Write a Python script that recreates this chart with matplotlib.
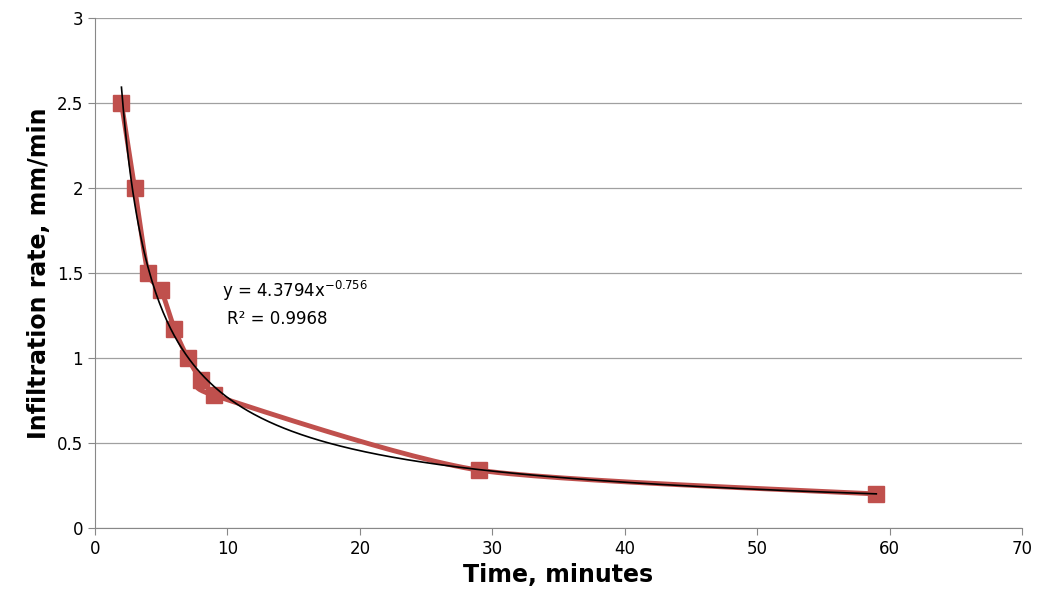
import numpy as np
import matplotlib
matplotlib.use("Agg")
import matplotlib.pyplot as plt

time_min = [2, 3, 4, 5, 6, 7, 8, 9, 29, 59]
rate = [2.5, 2.0, 1.5, 1.4, 1.17, 1.0, 0.87, 0.78, 0.34, 0.2]
coef_a, coef_b = 4.3794, -0.756

def catmull(xs, ys, n=30):
    xs = np.asarray(xs, float); ys = np.asarray(ys, float)
    px = np.concatenate([[xs[0]], xs, [xs[-1]]]); py = np.concatenate([[ys[0]], ys, [ys[-1]]])
    ox, oy = [], []
    t = np.linspace(0, 1, n)
    for i in range(1, len(px) - 2):
        p0, p1, p2, p3 = [np.array([px[j], py[j]]) for j in (i - 1, i, i + 1, i + 2)]
        m1 = (p2 - p0) / 2 * 0.5 * 2 / 2 * 2 * 0.5 * 2 / 2 * 2 * 0.5
        m2 = (p3 - p1) / 2
        m1 = (p2 - p0) / 2
        for tt in t:
            h00 = 2*tt**3 - 3*tt**2 + 1; h10 = tt**3 - 2*tt**2 + tt
            h01 = -2*tt**3 + 3*tt**2; h11 = tt**3 - tt**2
            p = h00*p1 + h10*m1*0.67 + h01*p2 + h11*m2*0.67
            ox.append(p[0]); oy.append(p[1])
    return ox, oy

fig = plt.figure(figsize=(10.39, 6.13), dpi=100)
ax = fig.add_axes([0.0914, 0.1387, 0.8922, 0.8319])
sx, sy = catmull(time_min, rate)
ax.plot(sx, sy, color="#C0504D", lw=3.5, zorder=2)
ax.plot(time_min, rate, "s", color="#C0504D", ms=11, zorder=3)
xt = np.linspace(2, 59, 400)
ax.plot(xt, coef_a * xt**coef_b, color="black", lw=1.2, zorder=4)

ax.set_xlim(0, 70); ax.set_ylim(0, 3)
ax.set_xticks(range(0, 71, 10)); ax.set_yticks([0, 0.5, 1, 1.5, 2, 2.5, 3])
ax.set_yticklabels(["0", "0.5", "1", "1.5", "2", "2.5", "3"])
ax.grid(axis="y", color="#A0A0A0", lw=0.9)
ax.set_axisbelow(True)
for s in ["top", "right"]:
    ax.spines[s].set_visible(False)
ax.spines["left"].set_color("#888888"); ax.spines["bottom"].set_color("#888888")
ax.tick_params(labelsize=12, color="#888888", direction="out", length=5)
ax.set_xlabel("Time, minutes", fontsize=17, fontweight="bold")
ax.set_ylabel("Infiltration rate, mm/min", fontsize=17, fontweight="bold")
ax.text(9.6, 1.36, r"y = 4.3794x$^{-0.756}$", fontsize=12)
ax.text(10.0, 1.2, "R² = 0.9968", fontsize=12)
fig.savefig("out.png", dpi=100)
